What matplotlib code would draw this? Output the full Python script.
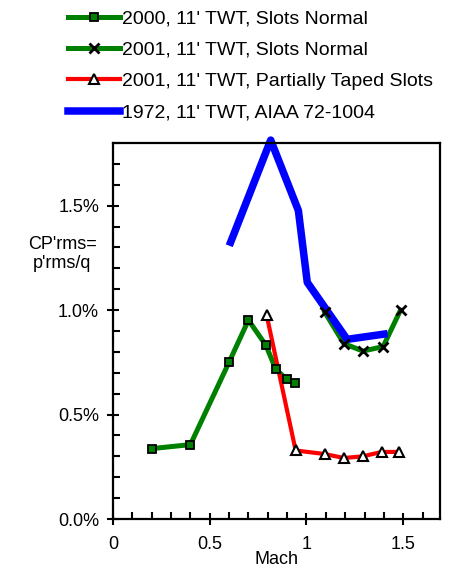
import matplotlib
matplotlib.use("Agg")
import matplotlib.pyplot as plt
from matplotlib.lines import Line2D
from matplotlib.ticker import MultipleLocator, FuncFormatter

plt.rcParams['font.family'] = ['Liberation Sans', 'DejaVu Sans']

# Data (Mach, CP'rms in %)
mach_2000 = [0.2, 0.4, 0.6, 0.7, 0.79, 0.84, 0.897, 0.94]
cp_2000 = [0.337, 0.356, 0.751, 0.952, 0.832, 0.72, 0.668, 0.649]

mach_2001n = [1.095, 1.193, 1.291, 1.396, 1.486]
cp_2001n = [0.989, 0.84, 0.804, 0.825, 1.0]

mach_2001t = [0.794, 0.944, 1.095, 1.193, 1.291, 1.388, 1.477]
cp_2001t = [0.976, 0.328, 0.311, 0.292, 0.300, 0.321, 0.321]

mach_1972 = [0.608, 0.815, 0.958, 1.004, 1.21, 1.40]
cp_1972 = [1.325, 1.814, 1.477, 1.133, 0.86, 0.885]

x_ticks = [0, 0.5, 1.0, 1.5]
x_ticklabels = ['0', '0.5', '1', '1.5']

labels = ["2000, 11' TWT, Slots Normal",
          "2001, 11' TWT, Slots Normal",
          "2001, 11' TWT, Partially Taped Slots",
          "1972, 11' TWT, AIAA 72-1004"]

green = '#008000'
red = '#ff0000'
blue = '#0000ff'

fig = plt.figure(figsize=(4.51, 5.69), dpi=100)
ax = fig.add_axes([113/451, 1-519/569, (440-113)/451, (519-143)/569])

# lines
ax.plot(mach_2000, cp_2000, color=green, lw=3.6, zorder=2)
ax.plot(mach_2001n, cp_2001n, color=green, lw=3.6, zorder=2)
ax.plot(mach_2001t, cp_2001t, color=red, lw=3.0, zorder=2)
ax.plot(mach_1972, cp_1972, color=blue, lw=5.4, zorder=2.5, clip_on=False)
# markers
ax.plot(mach_2000, cp_2000, ls='none', marker='s', ms=5.5, mfc=green, mec='black', mew=1.3, zorder=3)
ax.plot(mach_2001n, cp_2001n, ls='none', marker='x', ms=7.5, mec='black', mew=2.0, zorder=3)
ax.plot(mach_2001t, cp_2001t, ls='none', marker='^', ms=7, mfc='white', mec='black', mew=1.5, zorder=3)

ax.set_xlim(0, 1.69)
ax.set_ylim(0, 1.8)
ax.set_xticks(x_ticks)
ax.set_xticklabels(x_ticklabels)
ax.xaxis.set_minor_locator(MultipleLocator(0.1))
ax.yaxis.set_major_locator(MultipleLocator(0.5))
ax.yaxis.set_minor_locator(MultipleLocator(0.1))
ax.yaxis.set_major_formatter(FuncFormatter(lambda v, p: f'{v:.1f}%'))
ax.tick_params(which='major', direction='inout', length=8, width=1.5, labelsize=13, top=False, right=False)
ax.tick_params(which='minor', direction='in', length=5, width=1.5, top=False, right=False)
ax.tick_params(axis='y', pad=6)
ax.tick_params(axis='x', pad=8)
for s in ax.spines.values():
    s.set_linewidth(1.6)

ax.set_xlabel('Mach', fontsize=13, labelpad=-1)
fig.text(62/451, 1-254/569, "CP'rms=\np'rms/q", ha='center', va='center', fontsize=13, linespacing=1.1)

handles = [
    Line2D([], [], color=green, lw=3.6, marker='s', ms=5.5, mfc=green, mec='black', mew=1.3),
    Line2D([], [], color=green, lw=3.6, marker='x', ms=7.5, mec='black', mew=2.0),
    Line2D([], [], color=red, lw=3.0, marker='^', ms=7, mfc='white', mec='black', mew=1.5),
    Line2D([], [], color=blue, lw=5.4),
]
fig.legend(handles, labels, loc='upper left', bbox_to_anchor=(58/451, 1.0), frameon=False,
           fontsize=14, handlelength=2.67, handletextpad=0.1, labelspacing=0.7, borderaxespad=0.12)

fig.savefig('out.png', dpi=100)
